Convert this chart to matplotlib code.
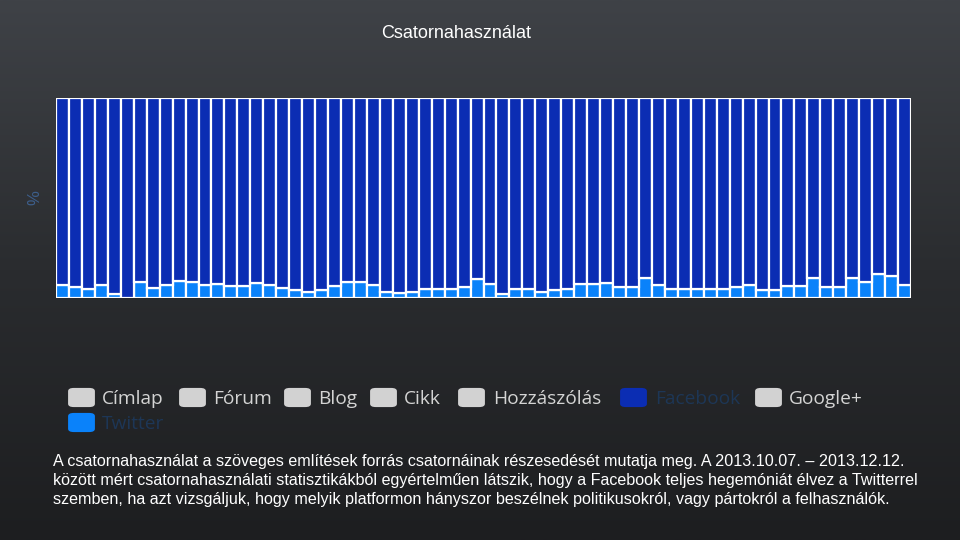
import numpy as np
import matplotlib
matplotlib.use("Agg")
import matplotlib.pyplot as plt
from matplotlib.patches import FancyBboxPatch

# share of Twitter per day (%), the rest is Facebook
twitter = [6.7, 5.7, 4.5, 6.7, 2.2, 0.0, 8.2, 4.8, 6.7, 8.7, 8.2, 6.7, 7.2, 5.8, 5.8,
           7.5, 6.7, 4.8, 4.2, 3.0, 4.0, 5.8, 7.8, 8.0, 6.7, 3.0, 2.5, 3.0, 4.5, 4.5,
           4.5, 5.3, 9.5, 7.0, 2.0, 4.5, 4.5, 3.2, 4.0, 4.5, 7.0, 7.0, 7.3, 5.5, 5.5,
           10.0, 6.5, 4.5, 4.5, 4.5, 4.5, 4.5, 5.5, 6.3, 4.0, 4.0, 6.2, 6.2, 10.2, 5.5,
           5.5, 10.2, 8.0, 12.0, 11.2, 6.5]
facebook = [100 - v for v in twitter]

legend_names = ["Címlap", "Fórum", "Blog", "Cikk", "Hozzászólás", "Facebook", "Google+", "Twitter"]
caption = ("A csatornahasználat a szöveges említések forrás csatornáinak részesedését mutatja meg. A 2013.10.07. – 2013.12.12.\n"
           "között mért csatornahasználati statisztikákból egyértelműen látszik, hogy a Facebook teljes hegemóniát élvez a Twitterrel\n"
           "szemben, ha azt vizsgáljuk, hogy melyik platformon hányszor beszélnek politikusokról, vagy pártokról a felhasználók.")

fb_color = "#0b2db3"
tw_color = "#0a82fa"
gray_box = "#d2d2d2"

fig = plt.figure(figsize=(9.6, 5.4), dpi=100)

# dark gradient background
bg = fig.add_axes([0, 0, 1, 1])
grad = np.linspace(0, 1, 256).reshape(-1, 1)
bg.imshow(grad, aspect="auto", extent=[0, 1, 0, 1],
          cmap=matplotlib.colors.LinearSegmentedColormap.from_list("bg", ["#1d1e20", "#2a2c2f", "#3f4247"]),
          origin="lower")
bg.set_axis_off()

ax = fig.add_axes([56 / 960, 1 - 298 / 540, 855 / 960, 200 / 540])
x = np.arange(len(twitter))
ax.bar(x, twitter, width=1.0, color=tw_color, edgecolor="white", linewidth=1.6)
ax.bar(x, facebook, bottom=twitter, width=1.0, color=fb_color, edgecolor="white", linewidth=1.6)
ax.set_xlim(-0.5, len(twitter) - 0.5)
ax.set_ylim(0, 100)
ax.set_xticks([])
ax.set_yticks([])
for s in ax.spines.values():
    s.set_visible(False)
ax.patch.set_alpha(0)

fig.text(456 / 960, 1 - 33 / 540, "Csatornahasználat", color="white", fontsize=13,
         ha="center", va="center", family="Liberation Sans")
fig.text(35 / 960, 1 - 198 / 540, "%", color="#3d5f8c", fontsize=12, rotation=90,
         ha="center", va="center", family="Liberation Sans")

# legend drawn by hand (two rows)
box_x = [70, 181, 286, 372, 460, 622, 757, 70]
text_x = [102, 213, 318, 404, 493, 655, 789, 102]
row_y = [397, 397, 397, 397, 397, 397, 397, 422]
for i, name in enumerate(legend_names):
    if name == "Facebook":
        fc, tc = fb_color, "#1d3656"
    elif name == "Twitter":
        fc, tc = tw_color, "#1d3656"
    else:
        fc, tc = gray_box, "#d4d4d4"
    bx = box_x[i] / 960
    by = 1 - (row_y[i] + 9) / 540
    fig.patches.append(FancyBboxPatch((bx, by), 23 / 960, 17 / 540,
                                      boxstyle="round,pad=0.002,rounding_size=0.006",
                                      transform=fig.transFigure, facecolor=fc, edgecolor="none"))
    fig.text(text_x[i] / 960, 1 - (row_y[i] + 2) / 540, name, color=tc, fontsize=13.8,
             ha="left", va="center", family="Open Sans")

fig.text(53 / 960, 1 - 454 / 540, caption, color="white", fontsize=11.6, ha="left", va="top",
         family="Liberation Sans", linespacing=1.33)

fig.savefig("out.png", dpi=100)
